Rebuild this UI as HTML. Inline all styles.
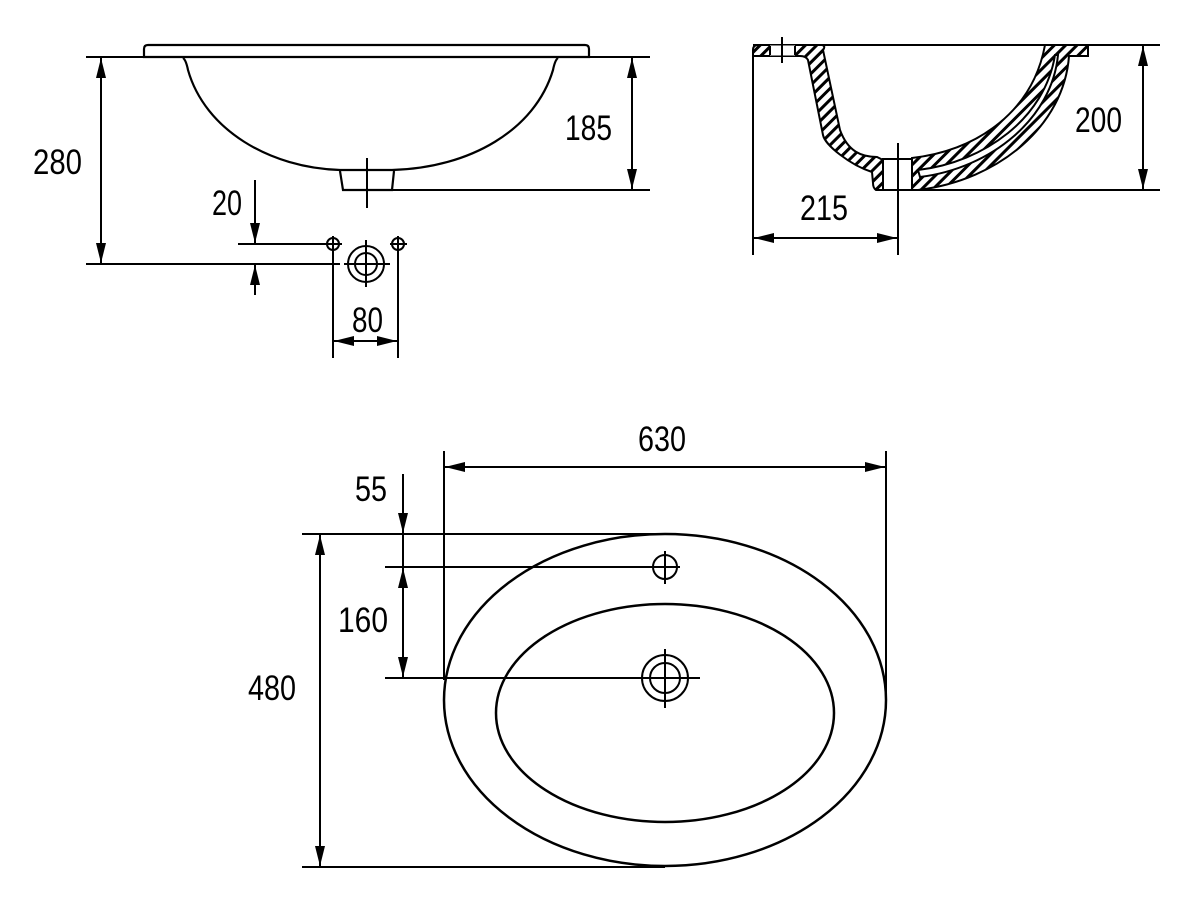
<!DOCTYPE html>
<html><head><meta charset="utf-8"><style>
html,body{margin:0;padding:0;background:#fff;}
svg{display:block;}
text{font-family:"Liberation Sans",sans-serif;font-size:35px;fill:#000;}
</style></head><body>
<svg width="1196" height="904" viewBox="0 0 1196 904" xmlns="http://www.w3.org/2000/svg">
<defs>
<pattern id="h" patternUnits="userSpaceOnUse" width="8" height="8" patternTransform="rotate(45)">
<rect width="8" height="8" fill="#fff"/><rect width="3" height="8" fill="#000"/>
</pattern>
<marker id="b" viewBox="0 0 20 10" refX="20" refY="5" markerWidth="20" markerHeight="10" markerUnits="userSpaceOnUse" orient="auto-start-reverse">
<path d="M0,0 L20,5 L0,10 Z" fill="#000"/>
</marker>
</defs>
<g stroke="#000" fill="none" stroke-width="2">
<!-- TOP LEFT -->
<path d="M148,45 L585,45 Q589,45 589,49 L589,57 L144,57 L144,49 Q144,45 148,45 Z" stroke-width="2.2"/>
<line x1="86" y1="57" x2="650" y2="57"/>
<path d="M183,58 Q186,60 188,70 C205,130 270,168 340,170 L392,170 C470,168 535,130 553,70 Q555,60 558,58" stroke-width="2.2"/>
<path d="M340,171 L343,190 L392,190 L394,171" stroke-width="2.2"/>
<line x1="392" y1="190" x2="650" y2="190"/>
<line x1="367" y1="158" x2="367" y2="208"/>
<line x1="101" y1="58" x2="101" y2="263" marker-start="url(#b)" marker-end="url(#b)"/>
<line x1="86" y1="264" x2="340" y2="264"/>
<line x1="632" y1="58" x2="632" y2="189" marker-start="url(#b)" marker-end="url(#b)"/>
<line x1="238" y1="244" x2="325" y2="244"/>
<line x1="255" y1="180" x2="255" y2="243" marker-end="url(#b)"/>
<line x1="255" y1="295" x2="255" y2="265" marker-end="url(#b)"/>
<circle cx="333" cy="244" r="6"/><line x1="325" y1="244" x2="342" y2="244"/><line x1="333" y1="236" x2="333" y2="358"/>
<circle cx="398" cy="244" r="6"/><line x1="390" y1="244" x2="407" y2="244"/><line x1="398" y1="236" x2="398" y2="358"/>
<circle cx="366" cy="264" r="18"/><circle cx="366" cy="264" r="11"/>
<line x1="344" y1="264" x2="390" y2="264"/><line x1="366" y1="240" x2="366" y2="287"/>
<line x1="334" y1="341" x2="397" y2="341" marker-start="url(#b)" marker-end="url(#b)"/>
<!-- TOP RIGHT section -->
<line x1="753" y1="45" x2="1160" y2="45"/>
<line x1="753" y1="50" x2="753" y2="255"/>
<path d="M758,45 L822,45 Q826,46 823,50 L840,130 C848,152 862,157 877,157 L883,160 L883,190 L876,190 Q873,188 873,183 L872,172 C850,165 825,145 823,135 L808,60 Q806,56 800,56 L753,56 L753,50 Q753,45 758,45 Z" fill="url(#h)" stroke-width="2"/>
<rect x="770" y="45.5" width="25" height="10" fill="#fff" stroke="none"/>
<line x1="770" y1="46" x2="770" y2="55"/><line x1="795" y1="46" x2="795" y2="55"/>
<line x1="782" y1="37" x2="782" y2="63"/>
<path d="M912,158 C980,150 1033,110 1045,45 L1088,45 L1088,56 L1069,56 C1064,125 1000,180 918,190 L912,190 Z" fill="url(#h)"/>
<path d="M918,170 C985,162 1045,118 1055,55 L1058,55 C1052,118 992,168 920,177 Z" fill="#fff"/>
<rect x="883" y="159" width="29" height="31" fill="#fff"/>
<line x1="912" y1="190" x2="1160" y2="190"/>
<line x1="898" y1="143" x2="898" y2="255"/>
<line x1="1143" y1="46" x2="1143" y2="189" marker-start="url(#b)" marker-end="url(#b)"/>
<line x1="754" y1="238" x2="897" y2="238" marker-start="url(#b)" marker-end="url(#b)"/>
<!-- BOTTOM -->
<ellipse cx="665" cy="700" rx="221" ry="166" stroke-width="2.5"/>
<ellipse cx="665" cy="713" rx="169" ry="109" stroke-width="2.5"/>
<line x1="444" y1="451" x2="444" y2="680"/>
<line x1="886" y1="451" x2="886" y2="700"/>
<line x1="445" y1="467" x2="885" y2="467" marker-start="url(#b)" marker-end="url(#b)"/>
<line x1="302" y1="534" x2="665" y2="534"/>
<line x1="302" y1="867" x2="665" y2="867"/>
<line x1="320" y1="535" x2="320" y2="866" marker-start="url(#b)" marker-end="url(#b)"/>
<line x1="385" y1="567" x2="680" y2="567"/>
<line x1="385" y1="678" x2="700" y2="678"/>
<line x1="403" y1="474" x2="403" y2="533" marker-end="url(#b)"/>
<line x1="403" y1="534" x2="403" y2="567"/>
<line x1="403" y1="568" x2="403" y2="677" marker-start="url(#b)" marker-end="url(#b)"/>
<circle cx="665" cy="567" r="12"/><line x1="665" y1="551" x2="665" y2="584"/>
<circle cx="665" cy="678" r="23"/><circle cx="665" cy="678" r="15"/>
<line x1="665" y1="649" x2="665" y2="708"/>
</g>
<text x="33" y="174" textLength="49" lengthAdjust="spacingAndGlyphs">280</text>
<text x="565" y="140" textLength="47" lengthAdjust="spacingAndGlyphs">185</text>
<text x="212" y="215" textLength="30" lengthAdjust="spacingAndGlyphs">20</text>
<text x="352" y="332" textLength="31" lengthAdjust="spacingAndGlyphs">80</text>
<text x="1075" y="132" textLength="47" lengthAdjust="spacingAndGlyphs">200</text>
<text x="800" y="220" textLength="48" lengthAdjust="spacingAndGlyphs">215</text>
<text x="638" y="451" textLength="48" lengthAdjust="spacingAndGlyphs">630</text>
<text x="355" y="501" textLength="32" lengthAdjust="spacingAndGlyphs">55</text>
<text x="338" y="632" textLength="50" lengthAdjust="spacingAndGlyphs">160</text>
<text x="248" y="700" textLength="48" lengthAdjust="spacingAndGlyphs">480</text>
</svg>
</body></html>
